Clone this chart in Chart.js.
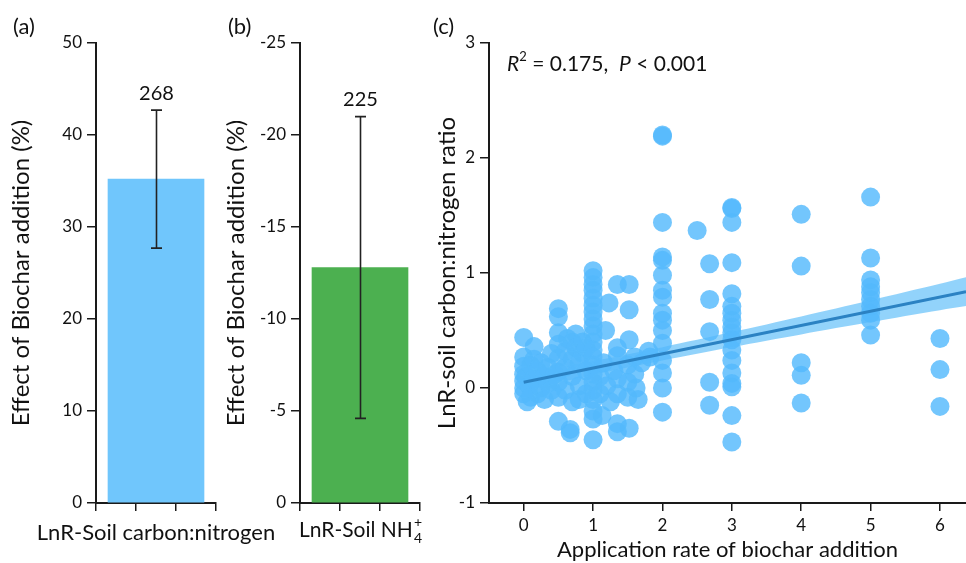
<!DOCTYPE html>
<html>
<head>
<meta charset="utf-8">
<script src="https://cdn.jsdelivr.net/npm/chart.js@4.4.1/dist/chart.umd.min.js"></script>
<style>
  html, body { margin: 0; padding: 0; background: #fff; }
  #wrap { position: relative; width: 966px; height: 563px; overflow: hidden; font-family: Lato, sans-serif; color: #111; }
  canvas { position: absolute; top: 0; }
  .tag { position: absolute; top: 13px; font-size: 22px; line-height: 26px; }
  #stat { position: absolute; left: 507px; top: 45px; font-size: 21px; line-height: 26px; white-space: nowrap; }
  #stat sup { font-size: 13px; position: relative; top: -2px; }
</style>
</head>
<body>
<div id="wrap">
  <canvas id="chartA" width="300" height="563" style="left:0px"></canvas>
  <canvas id="chartB" width="215" height="563" style="left:215px"></canvas>
  <canvas id="chartC" width="546" height="563" style="left:420px"></canvas>
  <div class="tag" style="left:13px">(a)</div>
  <div class="tag" style="left:228px">(b)</div>
  <div class="tag" style="left:433px">(c)</div>
  <div id="stat"><i>R</i><sup>2</sup> = 0.175,&nbsp; <i>P</i> &lt; 0.001</div>
</div>
<script>
// ---- panel (a): soil C:N effect ----
const catA = ['LnR-Soil carbon:nitrogen'];
const meanA = [35.2];
const errA = [7.5];
const nA = ['268'];
const ticksA = [0, 10, 20, 30, 40, 50];

// ---- panel (b): soil NH4+ effect (ion charge/count stacked after the name) ----
const catB = ['LnR-Soil NH'];
const catBSub = ['4'];
const catBSup = ['+'];
const meanB = [-12.8];
const errB = [8.2];
const nB = ['225'];
const ticksB = [-25, -20, -15, -10, -5, 0];

// ---- panel (c): LnR vs application rate ----
const rateX = [
  0, 0, 0, 0, 0, 0, 0, 0.03, 0.05, 0.08, 0.1, 0.1,
  0.15, 0.15, 0.15, 0.2, 0.2, 0.25, 0.25, 0.3, 0.3, 0.35, 0.35, 0.4, 0.4, 0.45,
  0.5, 0.5, 0.5, 0.5, 0.5, 0.5, 0.5, 0.5, 0.5,
  0.6, 0.6, 0.6, 0.63, 0.67, 0.67, 0.7, 0.7, 0.7, 0.7, 0.75, 0.75, 0.8, 0.8, 0.8, 0.85, 0.85, 0.9, 0.9, 0.9,
  1, 1, 1, 1, 1, 1, 1, 1, 1, 1, 1, 1, 1, 1, 1, 1, 1, 1, 1, 1, 1,
  1.1, 1.1, 1.13, 1.15, 1.18, 1.2, 1.23, 1.25, 1.3,
  1.35, 1.35, 1.35, 1.35, 1.35, 1.35, 1.35,
  1.52, 1.52, 1.52, 1.5, 1.5, 1.5, 1.52,
  1.6, 1.6, 1.62, 1.65, 1.7, 1.8, 1.82,
  2, 2, 2, 2, 2, 2, 2, 2, 2, 2, 2, 2, 2, 2, 2, 2,
  2.5, 2.68, 2.68, 2.68, 2.68, 2.68,
  3, 3, 3, 3, 3, 3, 3, 3, 3, 3, 3, 3, 3, 3, 3, 3, 3, 3,
  4, 4, 4, 4, 4,
  5, 5, 5, 5, 5, 5, 5, 5, 5, 5,
  6, 6, 6
];
const lnrY = [
  0.44, 0.27, 0.19, 0.12, 0.06, 0.0, -0.05, 0.1, -0.12, 0.02, 0.2, -0.08,
  0.36, 0.25, 0.08, -0.05, 0.15, 0.22, 0.0, 0.1, -0.1, 0.18, 0.04, 0.3, -0.02, 0.12,
  0.69, 0.62, 0.48, 0.38, 0.26, 0.14, 0.05, -0.08, -0.29,
  0.32, 0.18, -0.02, 0.43, -0.36, -0.39, 0.4, 0.25, 0.1, -0.12, 0.47, 0.35, 0.22, 0.02, -0.1, 0.4, 0.3, 0.15, -0.05, 0.35,
  1.02, 0.96, 0.9, 0.85, 0.78, 0.72, 0.66, 0.6, 0.54, 0.47, 0.4, 0.33, 0.27, 0.2, 0.12, 0.05, -0.02, -0.1, -0.2, -0.27, -0.45,
  0.1, -0.05, -0.24, 0.22, 0.5, 0.02, 0.74, -0.12, 0.15,
  0.9, 0.35, 0.28, 0.08, -0.05, -0.31, -0.38,
  0.9, 0.68, 0.42, 0.2, 0.05, -0.08, -0.35,
  0.27, 0.12, 0.0, -0.1, 0.22, 0.32, 0.27,
  2.2, 2.19, 1.44, 1.14, 1.11, 0.98, 0.85, 0.79, 0.65, 0.59, 0.5, 0.39, 0.24, 0.13, 0.0, -0.21,
  1.37, 1.08, 0.77, 0.49, 0.05, -0.15,
  1.57, 1.56, 1.44, 1.09, 0.82, 0.71, 0.65, 0.59, 0.53, 0.48, 0.42, 0.33, 0.24, 0.13, 0.04, 0.01, -0.24, -0.47,
  1.51, 1.06, 0.22, 0.11, -0.13,
  1.66, 1.13, 0.94, 0.88, 0.83, 0.77, 0.71, 0.65, 0.59, 0.46,
  0.43, 0.16, -0.16
];
// fitted line and its confidence band
const fitX = [0, 6.375];
const fitY = [0.05, 0.837];
const bandX = [0, 1, 2, 3, 4, 5, 6, 6.375];
const bandHi = [0.125, 0.234, 0.355, 0.486, 0.622, 0.763, 0.906, 0.962];
const bandLo = [-0.025, 0.114, 0.239, 0.356, 0.466, 0.573, 0.676, 0.712];
const ticksCX = [0, 1, 2, 3, 4, 5, 6];
const ticksCY = [-1, 0, 1, 2, 3];

Chart.defaults.font.family = 'Lato, sans-serif';
Chart.defaults.color = '#111';
Chart.defaults.animation = false;

const INK = '#1a1a1a';
const PLOT_TOP = 43;

// error bars plus sample-size label above each bar
const errBars = {
  id: 'errBars',
  afterDatasetsDraw(chart, _args, opts) {
    const { ctx } = chart;
    const y = chart.scales.y;
    const meta = chart.getDatasetMeta(0);
    ctx.save();
    meta.data.forEach((bar, i) => {
      const p1 = y.getPixelForValue(opts.means[i] + opts.errs[i]);
      const p2 = y.getPixelForValue(opts.means[i] - opts.errs[i]);
      const top = Math.min(p1, p2), bot = Math.max(p1, p2);
      const cx = Math.round(bar.x) + 0.5;
      ctx.strokeStyle = '#222';
      ctx.lineWidth = 1.6;
      ctx.beginPath();
      ctx.moveTo(cx, top); ctx.lineTo(cx, bot);
      ctx.moveTo(cx - 5.5, top); ctx.lineTo(cx + 5.5, top);
      ctx.moveTo(cx - 5.5, bot); ctx.lineTo(cx + 5.5, bot);
      ctx.stroke();
      ctx.fillStyle = '#111';
      ctx.font = '20px Lato, sans-serif';
      ctx.textAlign = 'center';
      ctx.textBaseline = 'middle';
      ctx.fillText(opts.labels[i], cx, top - 17);
    });
    ctx.restore();
  }
};

// category name with a stacked subscript/superscript, centred under its tick
const ionLabel = {
  id: 'ionLabel',
  afterDraw(chart, _args, opts) {
    if (!opts.names) return;
    const { ctx } = chart;
    const xs = chart.scales.x;
    ctx.save();
    ctx.fillStyle = '#111';
    ctx.textBaseline = 'alphabetic';
    ctx.textAlign = 'left';
    opts.names.forEach((name, i) => {
      const cx = xs.getPixelForValue(i);
      const base = xs.top + 34;
      ctx.font = '21px Lato, sans-serif';
      const wMain = ctx.measureText(name).width;
      ctx.font = '14px Lato, sans-serif';
      const wSmall = Math.max(ctx.measureText(opts.subs[i]).width, ctx.measureText(opts.sups[i]).width);
      const x0 = cx - (wMain + wSmall) / 2;
      ctx.font = '21px Lato, sans-serif';
      ctx.fillText(name, x0, base);
      ctx.font = '14px Lato, sans-serif';
      ctx.fillText(opts.subs[i], x0 + wMain + 1, base + 6);
      ctx.fillText(opts.sups[i], x0 + wMain + 1, base - 10);
    });
    ctx.restore();
  }
};

function noSidePad(s) { s.paddingLeft = 0; s.paddingRight = 0; }

function barPanel(id, cats, means, errs, labels, yTicks, color, yAxisW, rightPad, reverse, ion) {
  return new Chart(document.getElementById(id), {
    type: 'bar',
    data: {
      datasets: [{
        data: cats.map((c, i) => ({ x: i, y: means[i] })),
        backgroundColor: color,
        borderWidth: 0,
        barThickness: 96
      }]
    },
    options: {
      responsive: false,
      layout: { autoPadding: false, padding: { top: PLOT_TOP, right: rightPad, bottom: 0, left: 0 } },
      plugins: {
        legend: { display: false },
        tooltip: { enabled: false },
        errBars: { means, errs, labels },
        ionLabel: ion || {}
      },
      scales: {
        x: {
          type: 'linear',
          min: -1, max: 1,
          afterBuildTicks: s => { s.ticks = [-1, 0, 1].map(v => ({ value: v })); },
          ticks: {
            callback: v => (v === 0 && !ion ? cats[0] : ''),
            font: { size: 22 },
            padding: 9,
            maxRotation: 0,
            autoSkip: false
          },
          grid: { display: true, drawOnChartArea: false, drawTicks: true, tickLength: 8, color: INK, lineWidth: 1.5 },
          border: { display: true, color: INK, width: 2 },
          afterFit: s => { s.height = 60; noSidePad(s); }
        },
        y: {
          min: Math.min(...yTicks), max: Math.max(...yTicks),
          reverse: reverse,
          afterBuildTicks: s => { s.ticks = yTicks.map(v => ({ value: v })); },
          ticks: { font: { size: 17 }, padding: 5 },
          grid: { display: true, drawOnChartArea: false, drawTicks: true, tickLength: 9, color: INK, lineWidth: 1.5 },
          border: { display: true, color: INK, width: 2 },
          title: { display: true, text: 'Effect of Biochar addition (%)', font: { size: 24 }, padding: { top: 7, bottom: 0 } },
          afterFit: s => { s.width = yAxisW; }
        }
      }
    },
    plugins: [errBars, ionLabel]
  });
}

barPanel('chartA', catA, meanA, errA, nA, ticksA, '#70c6fc', 96, 84, false, null);
barPanel('chartB', catB, meanB, errB, nB, ticksB, '#4cb050', 85, 10, true,
  { names: catB, subs: catBSub, sups: catBSup });

const pts = rateX.map((x, i) => ({ x, y: lnrY[i] }));

new Chart(document.getElementById('chartC'), {
  type: 'scatter',
  data: {
    datasets: [
      {
        type: 'line',
        data: fitX.map((x, i) => ({ x, y: fitY[i] })),
        borderColor: '#2b82c3',
        borderWidth: 3,
        pointRadius: 0,
        fill: false,
        order: 0
      },
      {
        data: pts,
        backgroundColor: 'rgba(84,186,252,0.82)',
        borderWidth: 0,
        pointRadius: 9.5,
        order: 1
      },
      {
        type: 'line',
        data: bandX.map((x, i) => ({ x, y: bandHi[i] })),
        borderWidth: 0,
        pointRadius: 0,
        backgroundColor: 'rgba(110,196,250,0.75)',
        fill: '+1',
        tension: 0.3,
        order: 2
      },
      {
        type: 'line',
        data: bandX.map((x, i) => ({ x, y: bandLo[i] })),
        borderWidth: 0,
        pointRadius: 0,
        fill: false,
        tension: 0.3,
        order: 3
      }
    ]
  },
  options: {
    responsive: false,
    layout: { autoPadding: false, padding: { top: PLOT_TOP, right: 0, bottom: 0, left: 0 } },
    plugins: { legend: { display: false }, tooltip: { enabled: false } },
    scales: {
      x: {
        type: 'linear',
        min: -0.5, max: 6.375,
        afterBuildTicks: s => { s.ticks = ticksCX.map(v => ({ value: v })); },
        ticks: { font: { size: 17 }, padding: 4, maxRotation: 0 },
        grid: { display: true, drawOnChartArea: false, drawTicks: true, tickLength: 8, color: INK, lineWidth: 1.5 },
        border: { display: true, color: INK, width: 2 },
        title: { display: true, text: 'Application rate of biochar addition', font: { size: 22 }, padding: { top: 0, bottom: 0 } },
        afterFit: s => { s.height = 60; noSidePad(s); }
      },
      y: {
        min: -1, max: 3,
        afterBuildTicks: s => { s.ticks = ticksCY.map(v => ({ value: v })); },
        ticks: { font: { size: 17 }, padding: 5 },
        grid: { display: true, drawOnChartArea: false, drawTicks: true, tickLength: 9, color: INK, lineWidth: 1.5 },
        border: { display: true, color: INK, width: 2 },
        title: { display: true, text: 'LnR-soil carbon:nitrogen ratio', font: { size: 24 }, padding: { top: 13, bottom: 0 } },
        afterFit: s => { s.width = 69; }
      }
    }
  }
});
</script>
</body>
</html>
